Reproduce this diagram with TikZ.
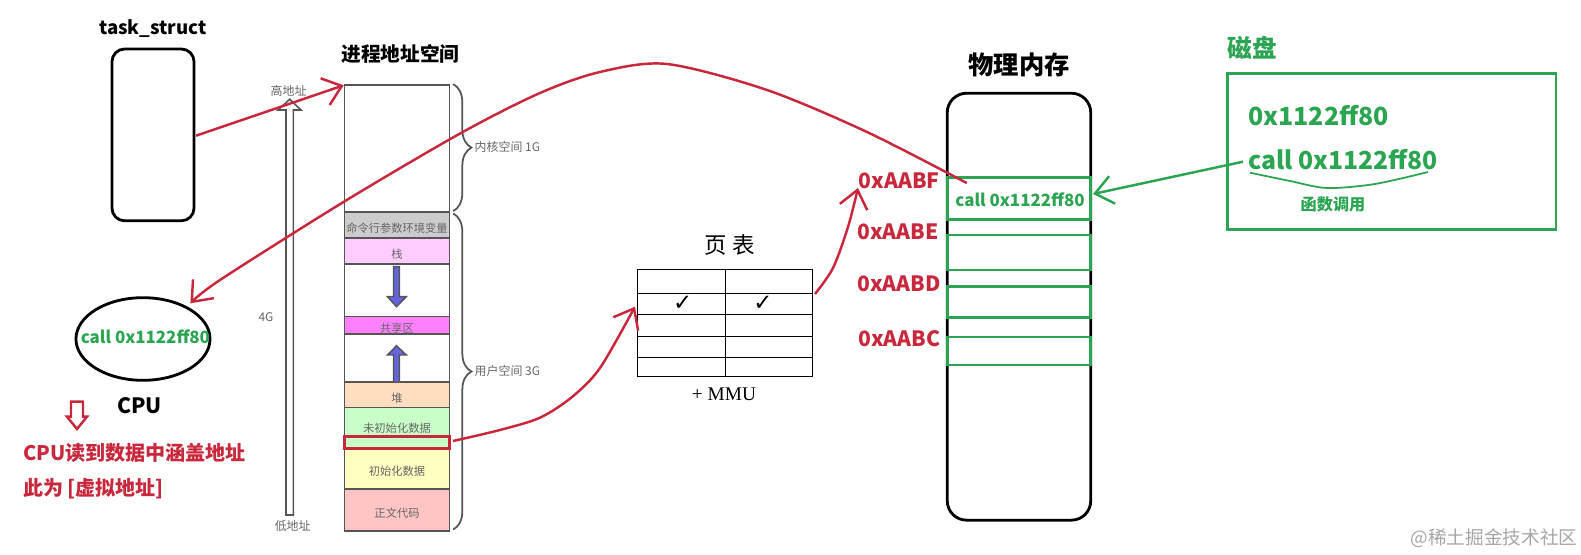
\documentclass[tikz,border=0pt]{standalone}
\usepackage{fontspec}
\setmainfont{Noto Sans CJK SC}
\newfontfamily\serifmmu{Liberation Serif}
\newfontfamily\checkfont{DejaVu Sans}
\usetikzlibrary{arrows.meta,decorations.pathreplacing,shapes.geometric}
\definecolor{inkred}{HTML}{C9283C}
\definecolor{inkgreen}{HTML}{2CA552}
\definecolor{segline}{HTML}{555555}
\definecolor{seglabel}{HTML}{666666}
\definecolor{stackblue}{HTML}{6464E0}
\definecolor{argfill}{HTML}{CCCCCC}
\definecolor{stackfill}{HTML}{FFCCFF}
\definecolor{sharedfill}{HTML}{FF80FF}
\definecolor{heapfill}{HTML}{FFDDC0}
\definecolor{bssfill}{HTML}{C8FFC8}
\definecolor{datafill}{HTML}{FFFFC0}
\definecolor{textfill}{HTML}{FFC4C4}
\tikzset{
    blackbox/.style={draw=black,line width=0.8pt,rounded corners=3.6pt,minimum width=#1,inner sep=0pt},
    seg/.style={draw=segline,line width=0.45pt,minimum width=1.047cm,inner sep=0pt,text height=4.1pt,text depth=0pt,font=\fontsize{3.2}{3.2}\selectfont,text=seglabel},
    graytext/.style={font=\fontsize{3.4}{3.4}\selectfont,text=seglabel,inner sep=0pt},
    title/.style={font=\bfseries\fontsize{#1}{#1}\selectfont,text=black,inner sep=0pt},
    addr/.style={font=\bfseries\fontsize{6}{6}\selectfont,text=inkred,inner sep=0pt},
    greentext/.style={font=\bfseries\fontsize{#1}{#1}\selectfont,text=inkgreen,inner sep=0pt},
    redtext/.style={font=\bfseries\fontsize{5.7}{5.7}\selectfont,text=inkred,inner sep=0pt,anchor=west},
    memrow/.style={draw=inkgreen,line width=0.75pt,minimum width=1.434cm,inner sep=0pt},
    tick/.style={font=\checkfont\fontsize{6.5}{6.5}\selectfont,inner sep=0pt},
    redarrow/.style={draw=inkred,line width=0.7pt,-{Straight Barb[length=5pt,width=8pt]}},
    greenarrow/.style={draw=inkgreen,line width=0.7pt,-{Straight Barb[length=5pt,width=8pt]}},
    bracket/.style={draw=segline,line width=0.5pt,decorate,decoration={brace,amplitude=5.2pt}},
    flow/.style={draw=segline,fill=stackblue,line width=0.4pt}
}
\begin{document}
\begin{tikzpicture}[x=0.01cm,y=-0.01cm]
    \useasboundingbox (0,0) rectangle (1581,555);

    % task_struct
    \node[title=5.3] (tasklabel) at (153,28.3) {task\_struct};
    \node[blackbox=0.82cm,minimum height=1.717cm] (task) at (153,134.9) {};

    % address space
    \node[title=5.6] (spacelabel) at (400.5,54) {进程地址空间};
    \node[seg,minimum height=1.273cm] (kernel) at (397,148.6) {};
    \node[seg,minimum height=0.26cm,fill=argfill] (args) at (397,225.3) {命令行参数环境变量};
    \node[seg,minimum height=0.26cm,fill=stackfill] (stack) at (397,251.3) {栈};
    \node[seg,minimum height=0.524cm] (gapdown) at (397,290.5) {};
    \node[seg,minimum height=0.176cm,fill=sharedfill] (shared) at (397,325.5) {共享区};
    \node[seg,minimum height=0.48cm] (gapup) at (397,358.3) {};
    \node[seg,minimum height=0.254cm,fill=heapfill] (heap) at (397,395) {堆};
    \node[seg,minimum height=0.406cm,fill=bssfill,text height=2.4pt] (bss) at (397,428) {未初始化数据};
    \node[seg,minimum height=0.407cm,fill=datafill] (data) at (397,468.7) {初始化数据};
    \node[seg,minimum height=0.417cm,fill=textfill] (text) at (397,510) {正文代码};
    \node[draw=inkred,line width=0.8pt,minimum width=1.047cm,minimum height=0.12cm,inner sep=0pt] (mark) at (397,442.3) {};

    % stack and heap growth
    \draw[flow] (393.6,266.7) -- (399.4,266.7) -- (399.4,296.7) -- (406.3,296.7) -- (396.5,306.7) -- (387.4,296.7) -- (393.6,296.7) -- cycle;
    \draw[flow] (393.6,382.3) -- (399.4,382.3) -- (399.4,355) -- (406.3,355) -- (396.5,345.7) -- (387.4,355) -- (393.6,355) -- cycle;

    % brackets
    \draw[bracket] (kernel.north east) ++(3,0) -- ++(0,127);
    \draw[bracket] (args.north east) ++(3,2) -- ++(0,316);
    \node[graytext,anchor=west] (kernellabel) at (474,146.7) {内核空间 1G};
    \node[graytext,anchor=west] (userlabel) at (474,371) {用户空间 3G};

    % 4G arrow
    \draw[draw=segline,line width=0.45pt] (286,515) -- (286,110) -- (278,110) -- (289.7,99.3) -- (301,110) -- (293.4,110) -- (293.4,515) -- cycle;
    \node[graytext] (highaddr) at (288.6,90.7) {高地址};
    \node[graytext] (fourg) at (266,316.7) {4G};
    \node[graytext] (lowaddr) at (292.7,525.7) {低地址};

    % CPU
    \node[draw=black,line width=0.8pt,ellipse,minimum width=1.34cm,minimum height=0.826cm,inner sep=0pt] (cpu) at (143,339) {};
    \node[greentext=4.8] (cpucall) at (145.4,336.5) {call 0x1122ff80};
    \node[title=6] (cpulabel) at (139.5,406) {CPU};
    \draw[draw=inkred,line width=0.7pt] (71,401.7) -- (83,401.7) -- (83,416.7) -- (87,416.7) -- (77,429) -- (67,416.7) -- (71,416.7) -- cycle;
    \node[redtext] (readline) at (22.4,453.3) {CPU读到数据中涵盖地址};
    \node[redtext] (virtline) at (22.4,488.3) {此为 [虚拟地址]};

    % page table
    \node[inner sep=0pt,font=\fontsize{6.4}{6.4}\selectfont] (tablelabel) at (730,245) {页 表};
    \foreach \ytop/\ybot in {269.3/293.3,293.3/314.3,314.3/336.3,336.3/357.3,357.3/376.3}{
        \draw[line width=0.3pt] (637.3,\ytop) rectangle (725.3,\ybot);
        \draw[line width=0.3pt] (725.3,\ytop) rectangle (812.7,\ybot);
    }
    \node[tick] (tickleft) at (682.7,303) {✓};
    \node[tick] (tickright) at (763,303) {✓};
    \node[inner sep=0pt,font=\serifmmu\fontsize{5.5}{5.5}\selectfont] (mmu) at (724,394) {+ MMU};
    \coordinate (tablein) at (635,306.7);
    \coordinate (tableout) at (815,294);

    % physical memory
    \node[title=7.2] (memlabel) at (1019,64.5) {物理内存};
    \node[blackbox=1.434cm,minimum height=4.267cm,rounded corners=5.5pt] (mem) at (1019,306.7) {};
    \node[memrow,minimum height=0.416cm,fill=white] (rowf) at (1019,198.5) {};
    \node[memrow,minimum height=0.35cm,fill=white] (rowe) at (1019,252.5) {};
    \node[memrow,minimum height=0.306cm,fill=white] (rowd) at (1019,302) {};
    \node[memrow,minimum height=0.277cm,fill=white] (rowc) at (1019,351) {};
    \node[greentext=4.8] (memcall) at (1020,199.3) {call 0x1122ff80};
    \node[addr,anchor=west] (addrf) at (858,180.7) {0xAABF};
    \node[addr,anchor=west] (addre) at (856.7,231.7) {0xAABE};
    \node[addr,anchor=west] (addrd) at (856.7,284) {0xAABD};
    \node[addr,anchor=west] (addrc) at (857.7,339) {0xAABC};

    % disk
    \node[greentext=7] (disklabel) at (1252.5,48) {磁盘};
    \node[draw=inkgreen,line width=0.8pt,minimum width=3.283cm,minimum height=1.56cm,inner sep=0pt] (disk) at (1391.8,151.3) {};
    \node[greentext=7.1,anchor=west] (diskaddr) at (1247.7,116) {0x1122ff80};
    \node[greentext=7.05,anchor=west] (diskcall) at (1247.7,159.3) {call 0x1122ff80};
    \node[greentext=4.6] (calllabel) at (1333,204) {函数调用};
    \draw[draw=inkgreen,line width=0.5pt] plot[smooth] coordinates {(1250,172.7) (1290,181) (1327,188) (1375,184) (1428,172)};

    % translations
    \coordinate (taskout) at (196,135.7);
    \coordinate (spacein) at (343.7,85.3);
    \coordinate (markout) at (453,441);
    \coordinate (addrin) at (858,188);
    \coordinate (memout) at (966.7,183);
    \coordinate (cpuin) at (190.4,303.3);
    \coordinate (diskout) at (1243,161.7);
    \coordinate (rowin) at (1093,194);
    \draw[redarrow] (taskout) -- (spacein);
    \draw[redarrow] plot[smooth] coordinates {(memout) (867,132) (767,90) (667,64) (600,72) (540,93) (461,133) (344,201.7) (220,280) (cpuin)};
    \draw[redarrow] plot[smooth] coordinates {(markout) (500,430) (540,417.7) (572,397) (600,368) (tablein)};
    \draw[redarrow] plot[smooth] coordinates {(tableout) (833,268) (848,227) (addrin)};
    \draw[greenarrow] (diskout) -- (rowin);

    \node[font=\fontsize{5.3}{5.3}\selectfont,text=gray!70,inner sep=0pt,anchor=east] (watermark) at (1578,538) {@稀土掘金技术社区};
\end{tikzpicture}
\end{document}
